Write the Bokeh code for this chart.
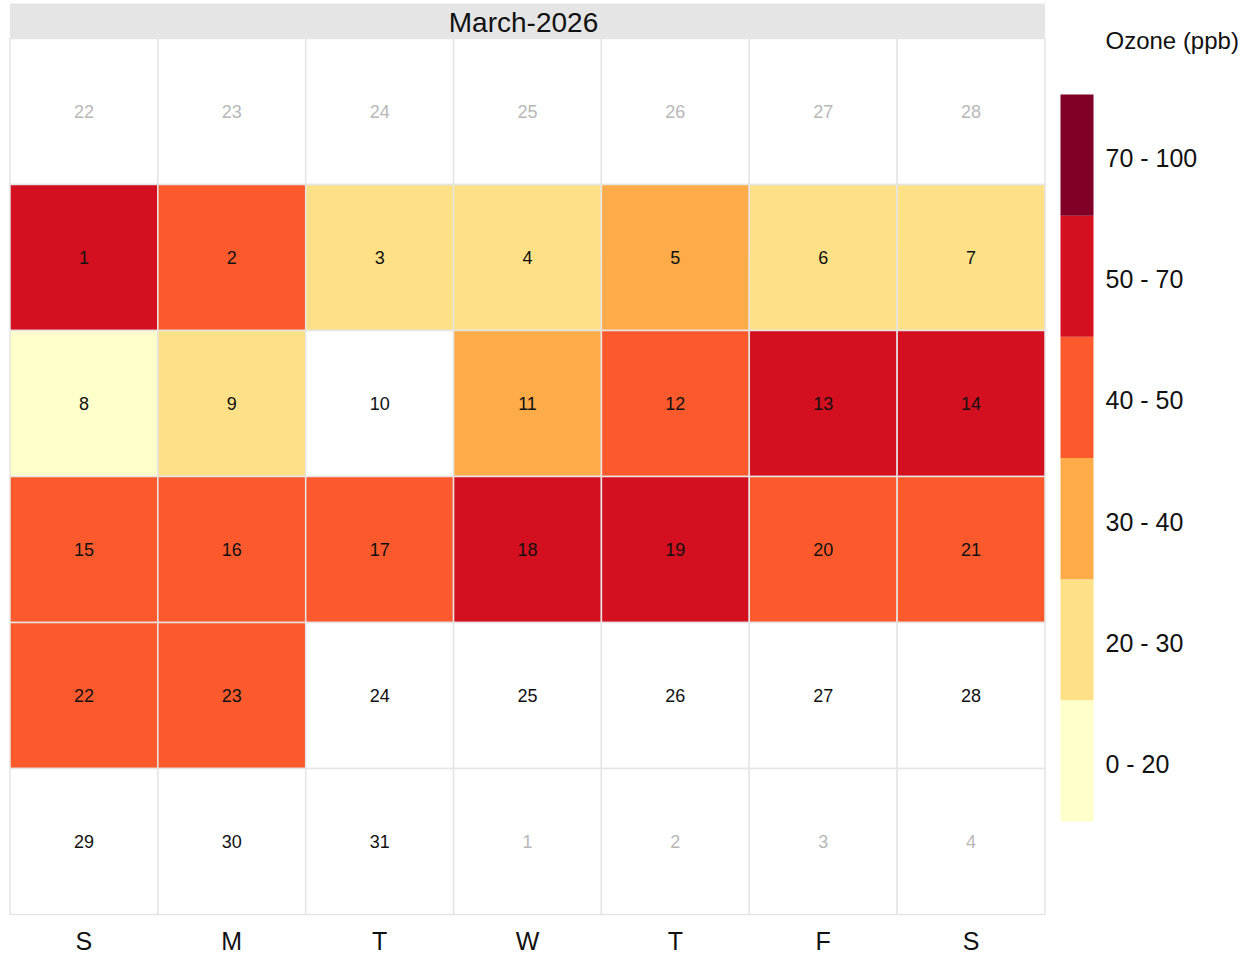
from datetime import date, timedelta
from bokeh.plotting import figure
from bokeh.models import Range1d, ColumnDataSource
from bokeh.core.properties import value
from bokeh.embed import file_html
from bokeh.resources import INLINE

# ---------------- data ----------------
year, month = 2026, 3
title_text = "March-2026"
weekday_labels = ["S", "M", "T", "W", "T", "F", "S"]
legend_title = "Ozone (ppb)"
band_labels = ["0 - 20", "20 - 30", "30 - 40", "40 - 50", "50 - 70", "70 - 100"]
band_colors = ["#FFFFCC", "#FEE187", "#FEAB49", "#FC5A2D", "#D40F20", "#800026"]
# ozone band per day of March (None = no data)
march_days = list(range(1, 32))
ozone_band = [
    "50 - 70", "40 - 50", "20 - 30", "20 - 30", "30 - 40", "20 - 30", "20 - 30",
    "0 - 20", "20 - 30", None, "30 - 40", "40 - 50", "50 - 70", "50 - 70",
    "40 - 50", "40 - 50", "40 - 50", "50 - 70", "50 - 70", "40 - 50", "40 - 50",
    "40 - 50", "40 - 50", None, None, None, None, None,
    None, None, None,
]

# ---------------- layout geometry ----------------
PX_X = 1035 / 7.0
PX_Y = 876 / 6.0
W, H = 1243, 954
GX0 = 9.5
x0 = -GX0 / PX_X
x1 = x0 + W / PX_X
y1 = 914 / PX_Y
y0 = y1 - H / PX_Y


def yp(py):
    return (914 - py) / PX_Y


def xp(px):
    return (px - GX0) / PX_X


# ---------------- calendar cells ----------------
first = date(year, month, 1)
offset = (first.weekday() + 1) % 7
if offset == 0:
    offset = 7
start = first - timedelta(days=offset)
color_of = dict(zip(band_labels, band_colors))

xs, ys, fills, labels, tcolors = [], [], [], [], []
for i in range(42):
    d = start + timedelta(days=i)
    col, row = i % 7, i // 7
    xs.append(col + 0.5)
    ys.append(6 - row - 0.5)
    labels.append(str(d.day))
    if d.month == month:
        band = ozone_band[march_days.index(d.day)]
        fills.append(color_of[band] if band else "#FFFFFF")
        tcolors.append("#111111")
    else:
        fills.append("#FFFFFF")
        tcolors.append("#B8B8B8")

src = ColumnDataSource(dict(x=xs, y=ys, fill=fills, label=labels, tc=tcolors))

p = figure(width=W, height=H, x_range=Range1d(x0, x1), y_range=Range1d(y0, y1),
           x_axis_location=None, y_axis_location=None, toolbar_location=None,
           output_backend="svg", min_border=0)
p.grid.visible = False
p.outline_line_color = None
p.background_fill_color = "white"
p.border_fill_color = "white"

FONT = value("Liberation Sans")

# title strip
s_top, s_bot = yp(3), yp(38)
p.rect(x=[3.5], y=[(s_top + s_bot) / 2], width=7, height=s_top - s_bot,
       fill_color="#E5E5E5", line_color=None)
p.text(x=[xp(523)], y=[yp(22)], text=[title_text], text_font=FONT,
       text_font_size="28px", text_align="center", text_baseline="middle",
       text_color="#111111")

# tiles
p.rect(x="x", y="y", width=1, height=1, source=src, fill_color="fill",
       line_color="#E5E5E5", line_width=1.5)
p.text(x="x", y="y", text="label", source=src, text_color="tc", text_font=FONT,
       text_font_size="18px", text_align="center", text_baseline="middle")

# weekday labels
p.text(x=[c + 0.5 for c in range(7)], y=[yp(940)] * 7, text=weekday_labels,
       text_font=FONT, text_font_size="25px", text_align="center",
       text_baseline="middle", text_color="#111111")

# legend (colour key)
bar_top = yp(94)
bar_bot = yp(821)
bh = (bar_top - bar_bot) / len(band_labels)
band_y = [bar_bot + (k + 0.5) * bh for k in range(len(band_labels))]
label_y = [y - 3 / PX_Y for y in band_y]
p.rect(x=[xp(1076.5)] * len(band_labels), y=band_y, width=33 / PX_X, height=bh,
       fill_color=band_colors, line_color=None)
p.text(x=[xp(1105)] * len(band_labels), y=label_y, text=band_labels, text_font=FONT,
       text_font_size="25px", text_align="left", text_baseline="middle",
       text_color="#111111")
p.text(x=[xp(1105)], y=[yp(40)], text=[legend_title], text_font=FONT,
       text_font_size="24px", text_align="left", text_baseline="middle",
       text_color="#111111")

open("out.html", "w").write(file_html(p, INLINE))
